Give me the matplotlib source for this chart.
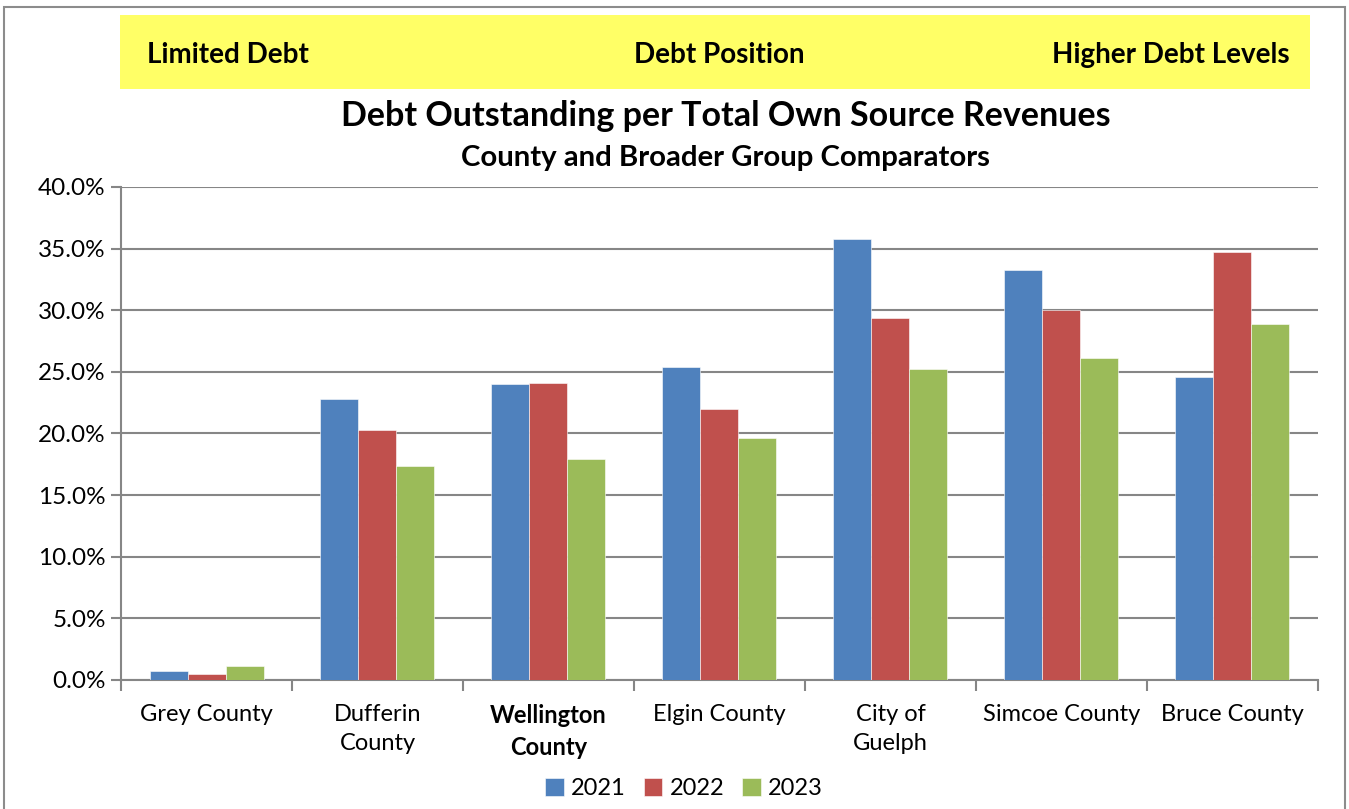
import matplotlib
import matplotlib.pyplot as plt
import numpy as np
from matplotlib.patches import Rectangle

matplotlib.use("Agg")

plt.rcParams["font.family"] = ["Lato", "DejaVu Sans"]

# data (percent)
categories = ["Grey County", "Dufferin\nCounty", "Wellington\nCounty", "Elgin County",
              "City of\nGuelph", "Simcoe County", "Bruce County"]
years = ["2021", "2022", "2023"]
vals_2021 = [0.7, 22.8, 24.0, 25.4, 35.8, 33.3, 24.6]
vals_2022 = [0.5, 20.3, 24.1, 22.0, 29.4, 30.0, 34.7]
vals_2023 = [1.1, 17.4, 17.9, 19.6, 25.2, 26.1, 28.9]
colors = ["#4F81BD", "#C0504D", "#9BBB59"]

fig = plt.figure(figsize=(13.49, 8.09), dpi=100)
ax = fig.add_axes([0.0897, 0.1595, 0.8873, 0.6094])

x = np.arange(len(categories))
width = 1 / 4.5
series = [vals_2021, vals_2022, vals_2023]
for i, (vals, c, yr) in enumerate(zip(series, colors, years)):
    ax.bar(x + (i - 1) * width, vals, width, color=c, label=yr,
           edgecolor="white", linewidth=0.4, zorder=3)

ax.set_xlim(-0.5, len(categories) - 0.5)
ax.set_ylim(0, 40)
ax.set_yticks(np.arange(0, 41, 5))
ax.set_yticklabels([f"{v:.1f}%" for v in np.arange(0, 41, 5)], fontsize=17.5)
ax.yaxis.grid(True, color="#868686", linewidth=1.5, zorder=0)
ax.tick_params(axis="y", length=7, width=1.5, color="#868686", pad=4)

ax.set_xticks(np.arange(-0.5, len(categories), 1.0))
ax.set_xticklabels([])
ax.tick_params(axis="x", which="major", length=8, width=1.5, color="#868686")
ax.set_xticks(x, minor=True)
ax.set_xticklabels(categories, minor=True, fontsize=17, linespacing=1.5)
ax.tick_params(axis="x", which="minor", length=0, pad=17)
for lbl in ax.get_xticklabels(minor=True):
    if lbl.get_text().startswith("Wellington"):
        lbl.set_fontweight("bold")

for s in ["top", "right"]:
    ax.spines[s].set_visible(False)
for s in ["left", "bottom"]:
    ax.spines[s].set_color("#868686")
    ax.spines[s].set_linewidth(1.5)

# yellow banner
fig.patches.append(Rectangle((0.089, 0.89), 0.882, 0.092, transform=fig.transFigure,
                             facecolor="#FFFF66", edgecolor="none"))
fig.text(0.109, 0.932, "Limited Debt", fontsize=20, fontweight="bold", ha="left", va="center")
fig.text(0.533, 0.932, "Debt Position", fontsize=20, fontweight="bold", ha="center", va="center")
fig.text(0.956, 0.932, "Higher Debt Levels", fontsize=20, fontweight="bold", ha="right", va="center")

fig.text(0.538, 0.857, "Debt Outstanding per Total Own Source Revenues",
         fontsize=24.5, fontweight="bold", ha="center", va="center")
fig.text(0.538, 0.805, "County and Broader Group Comparators",
         fontsize=21.2, fontweight="bold", ha="center", va="center")

# outer border
fig.patches.append(Rectangle((0.003, -0.01), 0.994, 1.001, transform=fig.transFigure,
                             facecolor="none", edgecolor="#8C8C8C", linewidth=1.5))

fig.legend(loc="center", bbox_to_anchor=(0.507, 0.025), ncol=3, frameon=False,
           fontsize=17, handlelength=0.8, handleheight=0.8, handletextpad=0.3,
           columnspacing=0.75)

plt.savefig("out.png", dpi=100)
plt.close()
